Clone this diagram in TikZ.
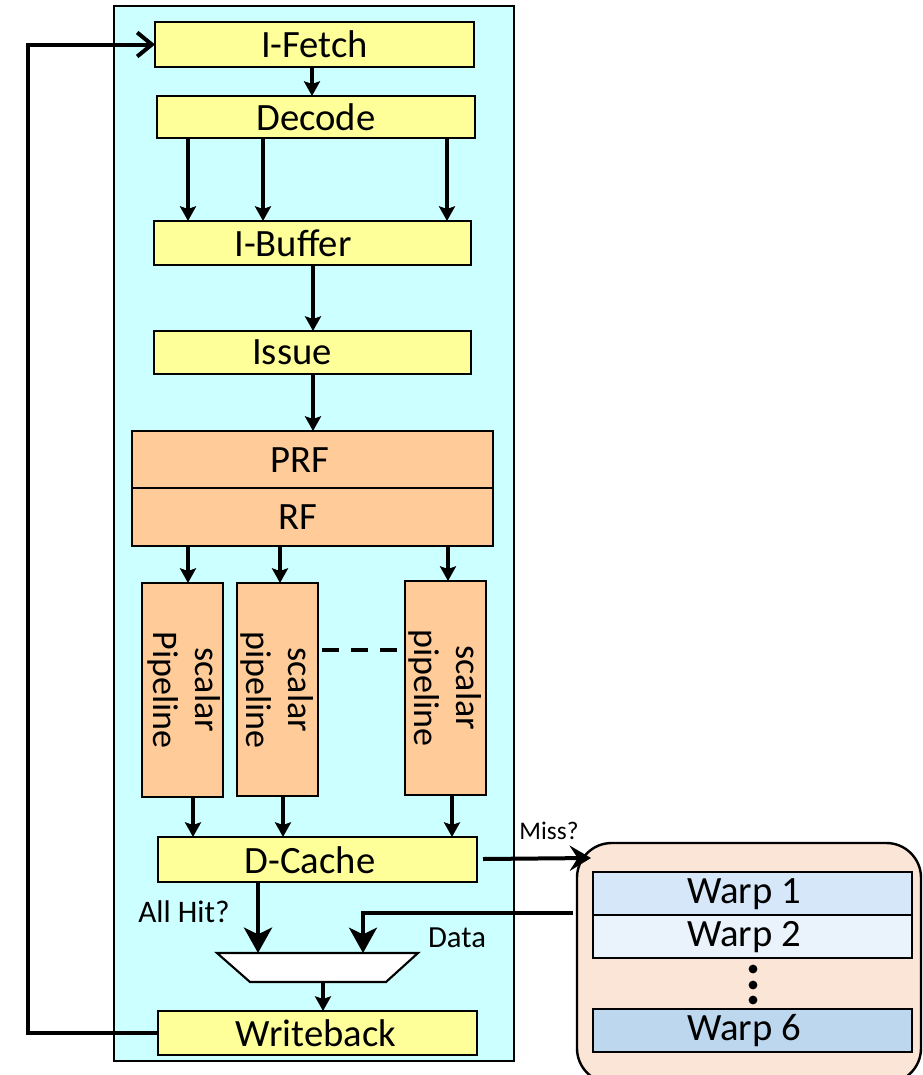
\documentclass[tikz,border=0pt]{standalone}
\usepackage{fontspec}
\setmainfont{Carlito}
\usetikzlibrary{arrows.meta}
\definecolor{cyanbg}{HTML}{CCFFFF}
\definecolor{ybx}{HTML}{FFFF99}
\definecolor{obx}{HTML}{FFCC99}
\definecolor{warpbg}{HTML}{FBE5D6}
\definecolor{wa}{HTML}{D6E7FA}
\definecolor{wb}{HTML}{EAF3FC}
\definecolor{wc}{HTML}{BDD7EE}
\newcommand{\pxu}{0.75pt}
\begin{document}
\begin{tikzpicture}[x=0.75pt,y=-0.75pt,
  bx/.style={draw=black, line width=1.2pt, inner sep=0pt, outer sep=0pt, anchor=north west},
  ybox/.style={bx, fill=ybx},
  obox/.style={bx, fill=obx},
  wbox/.style={bx, line width=1.5pt},
  big/.style={font=\fontsize{29pt}{34pt}\selectfont},
  pipetxt/.style={font=\fontsize{27pt}{32pt}\selectfont, rotate=-90, align=center, inner sep=0pt},
  arr/.style={line width=3pt, -{Stealth[length=11pt,width=12pt,inset=2pt]}},
  bigarr/.style={line width=3.2pt, -{Stealth[length=19pt,width=21pt,inset=5pt]}},
  fbarr/.style={line width=3pt, -{Straight Barb[length=11pt,width=18pt,line width=3pt]}},
  missarr/.style={line width=3pt, -{Stealth[length=16pt,width=19pt,inset=6pt]}},
  lbl/.style={inner sep=0pt}
]
\useasboundingbox (0,0) rectangle (922,1075);
\clip (0,0) rectangle (922,1075);
% core background
\node[bx, line width=1.1pt, fill=cyanbg, minimum width=400*\pxu, minimum height=1055*\pxu] (core) at (114,6) {};
% pipeline stages
\node[ybox, minimum width=319*\pxu, minimum height=45*\pxu, big] (ifetch) at (155,22) {I-Fetch};
\node[ybox, line width=2.2pt, minimum width=318*\pxu, minimum height=42*\pxu, big] (decode) at (157,96) {Decode};
\node[ybox, minimum width=317*\pxu, minimum height=44*\pxu] (ibuf) at (154,221) {};
\node[big, lbl] (ibuft) at (293,243) {I-Buffer};
\node[ybox, minimum width=317*\pxu, minimum height=43*\pxu] (issue) at (154,331) {};
\node[big, lbl] (issuet) at (292,352) {Issue};
\node[obox, minimum width=361*\pxu, minimum height=57*\pxu] (prf) at (132,431) {};
\node[big, lbl] (prft) at (300,460) {PRF};
\node[obox, minimum width=361*\pxu, minimum height=58*\pxu] (rf) at (132,488) {};
\node[big, lbl] (rft) at (298,517) {RF};
\node[obox, minimum width=81*\pxu, minimum height=214*\pxu] (p1) at (142,583) {};
\node[obox, minimum width=81*\pxu, minimum height=213*\pxu] (p2) at (237,583) {};
\node[obox, minimum width=81*\pxu, minimum height=214*\pxu] (p3) at (405,581) {};
\node[pipetxt] (p1t) at (184,690) {scalar\\Pipeline};
\node[pipetxt] (p2t) at (277,690) {scalar\\pipeline};
\node[pipetxt] (p3t) at (445,688) {scalar\\pipeline};
\node[ybox, minimum width=319*\pxu, minimum height=45*\pxu] (dcache) at (158,837) {};
\node[big, lbl] (dcachet) at (310,860) {D-Cache};
\node[ybox, minimum width=319*\pxu, minimum height=44*\pxu] (wback) at (158,1011) {};
\node[big, lbl] (wbackt) at (316,1033) {Writeback};
% mux
\draw[line width=1.6pt, fill=white] (217,953) -- (418,953) -- (386,982) -- (250,982) -- cycle;
\coordinate (muxa) at (258,953);
\coordinate (muxb) at (363,953);
\coordinate (muxo) at (323,982);
% memory / warps
\node[bx, line width=1.8pt, rounded corners=26pt, fill=warpbg, minimum width=344*\pxu, minimum height=240*\pxu] (mem) at (577,843) {};
\node[wbox, fill=wa, minimum width=319*\pxu, minimum height=43*\pxu] (w1) at (593,872) {};
\node[wbox, fill=wb, minimum width=319*\pxu, minimum height=43*\pxu] (w2) at (593,915) {};
\node[wbox, fill=wc, minimum width=319*\pxu, minimum height=43*\pxu] (w6) at (593,1009) {};
\node[big, lbl] (w1t) at (744,894) {Warp 1};
\node[big, lbl] (w2t) at (744,937) {Warp 2};
\node[big, lbl] (w6t) at (744,1031) {Warp 6};
\fill (753,969) circle (3.3pt) (753,985) circle (3.3pt) (753,1000) circle (3.3pt);
% arrows
\draw[arr] (ifetch.south -| 312,0) -- (decode.north -| 312,0);
\draw[arr] (decode.south -| 188,0) -- (ibuf.north -| 188,0);
\draw[arr] (decode.south -| 263,0) -- (ibuf.north -| 263,0);
\draw[arr] (decode.south -| 447,0) -- (ibuf.north -| 447,0);
\draw[arr] (ibuf.south -| 313,0) -- (issue.north -| 313,0);
\draw[arr] (issue.south -| 313,0) -- (prf.north -| 313,0);
\draw[arr] (rf.south -| 188,0) -- (p1.north -| 188,0);
\draw[arr] (rf.south -| 280,0) -- (p2.north -| 280,0);
\draw[arr] (rf.south -| 448,0) -- (p3.north -| 448,0);
\draw[arr] (p1.south -| 193,0) -- (dcache.north -| 193,0);
\draw[arr] (p2.south -| 283,0) -- (dcache.north -| 283,0);
\draw[arr] (p3.south -| 452,0) -- (dcache.north -| 452,0);
\draw[line width=3.2pt, dash pattern=on 12.75pt off 9pt] (p2.east |- 0,650) ++(4,0) -- ([xshift=-5.25pt]p3.west |- 0,650);
\draw[bigarr] (dcache.south -| muxa) -- (muxa);
\coordinate (datain) at (573,913);
\draw[bigarr, line width=2.4pt] (datain) -| (muxb);
\draw[arr] (muxo) -- (wback.north -| muxo);
\coordinate (missend) at (591,858);
\draw[missarr] ([xshift=4.5pt]dcache.east |- 0,859) -- (missend);
\coordinate (loopx) at (28,0);
\draw[fbarr] (wback.west) -- (wback.west -| loopx) -- (ifetch.west -| loopx) -- (ifetch.west);
% labels
\node[lbl, font=\fontsize{23.5pt}{28pt}\selectfont] (allhit) at (184,912) {All Hit?};
\node[lbl, font=\fontsize{23pt}{28pt}\selectfont] (datal) at (457,938) {Data};
\node[lbl, font=\fontsize{19pt}{23pt}\selectfont] (missl) at (549,831) {Miss?};
\end{tikzpicture}
\end{document}
